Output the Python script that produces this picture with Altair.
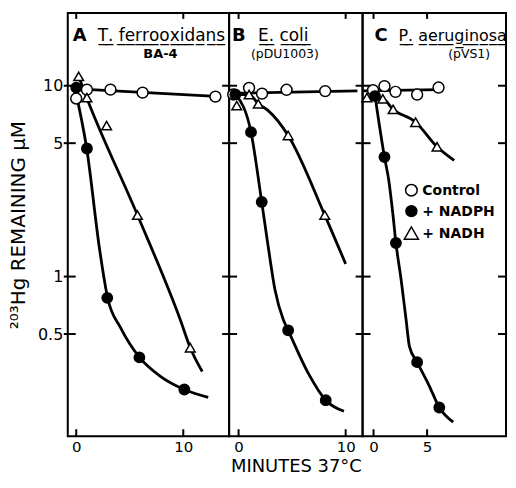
import altair as alt
import pandas as pd

SERIES = ["Control", "+ NADPH", "+ NADH"]
YTICKS = [0.5, 1, 5, 10]

# ---------- Panel A: T. ferrooxidans BA-4 ----------
A_ctrl_t = [0, 1.0, 3.2, 6.2, 13.0]
A_ctrl_v = [8.57, 9.54, 9.54, 9.2, 8.77]
A_nadph_t = [0, 1.0, 2.9, 5.9, 10.1]
A_nadph_v = [9.78, 4.69, 0.774, 0.377, 0.256]
A_nadh_t = [0.23, 1.0, 2.84, 5.72, 10.65]
A_nadh_v = [11.2, 8.66, 6.18, 2.1, 0.424]
A_ctrl_curve_t = [-0.33, 13.07]
A_ctrl_curve_v = [9.66, 8.8]
A_nadph_curve_t = [-0.14, 0.98, 2.19, 2.93, 4.14, 5.91, 7.86, 10.09, 12.33]
A_nadph_curve_v = [9.78, 4.69, 1.38, 0.774, 0.54, 0.377, 0.30, 0.256, 0.233]
A_nadh_curve_t = [0.23, 0.98, 5.72, 9.72, 10.65, 11.77]
A_nadh_curve_v = [11.2, 8.66, 2.1, 0.594, 0.424, 0.318]
A_xticks = [0, 10]

# ---------- Panel B: E. coli (pDU1003) ----------
B_ctrl_t = [-0.5, 0.98, 2.19, 4.48, 8.09]
B_ctrl_v = [9.0, 9.74, 9.09, 9.52, 9.37]
B_nadph_t = [-0.3, 1.16, 2.16, 4.63, 8.14]
B_nadph_v = [9.0, 5.71, 2.46, 0.523, 0.225]
B_nadh_t = [-0.17, 0.98, 1.84, 4.63, 8.05]
B_nadh_v = [7.87, 8.99, 8.04, 5.49, 2.1]
B_ctrl_curve_t = [-0.88, 11.1]
B_ctrl_curve_v = [9.12, 9.4]
B_nadph_curve_t = [-0.3, 1.16, 2.16, 2.77, 3.4, 4.17, 4.63, 6.49, 8.14, 9.84]
B_nadph_curve_v = [9.0, 5.71, 2.46, 1.43, 0.852, 0.595, 0.523, 0.313, 0.225, 0.197]
B_nadh_curve_t = [0.0, 0.98, 1.84, 2.74, 4.63, 8.05, 10.0]
B_nadh_curve_v = [9.0, 8.99, 8.04, 7.43, 5.49, 2.1, 1.165]
B_xticks = [0, 10]

# ---------- Panel C: P. aeruginosa (pVS1) ----------
C_ctrl_t = [-0.05, 1.02, 2.05, 4.07, 6.07]
C_ctrl_v = [9.48, 9.95, 9.29, 8.99, 9.78]
C_nadph_t = [0.14, 1.02, 2.09, 4.07, 6.14]
C_nadph_v = [8.83, 4.23, 1.5, 0.356, 0.206]
C_nadh_t = [-0.62, 0.87, 1.83, 3.93, 5.93]
C_nadh_v = [8.67, 8.53, 7.52, 6.44, 4.79]
C_ctrl_curve_t = [-1.02, 6.07]
C_ctrl_curve_v = [9.4, 9.55]
C_nadph_curve_t = [0.14, 1.02, 1.42, 1.8, 2.09, 2.58, 3.04, 3.35, 4.07, 5.21, 6.14, 7.44]
C_nadph_curve_v = [8.83, 4.23, 3.2, 2.14, 1.5, 0.96, 0.594, 0.431, 0.356, 0.267, 0.206, 0.173]
C_nadh_curve_t = [-0.62, 0.87, 1.83, 3.93, 5.93, 7.53]
C_nadh_curve_v = [8.67, 8.53, 7.52, 6.44, 4.79, 4.06]
C_xticks = [0, 5]

LETTERS = ["A", "B", "C"]
SPECIES = [("T.", "ferrooxidans"), ("E.", "coli"), ("P.", "aeruginosa")]
STRAINS = ["BA-4", "(pDU1003)", "(pVS1)"]
Y_TITLE = "\u00b2\u2070\u00b3Hg REMAINING \u00b5M"
X_TITLE = "MINUTES 37\u00b0C"

H = 425
FONT = "DejaVu Sans"

SHAPE_SCALE = alt.Scale(domain=SERIES, range=["circle", "circle", "triangle-up"])
FILL_SCALE = alt.Scale(domain=SERIES, range=["white", "black", "white"])


def ul(s):
    return "".join(c + "\u0332" for c in s)


def frame(ts, vs, names):
    rows = []
    k = 0
    for tt, vv, nm in zip(ts, vs, names):
        for a, b in zip(tt, vv):
            rows.append({"t": a, "v": b, "series": nm, "mk": nm, "k": k})
            k += 1
    return pd.DataFrame(rows)


def panel(i, pts, curves, xticks, width, xdomain, show_y, show_xtitle, show_legend,
          letter_x, species_x, strain_x, species_size):
    xs = alt.Scale(domain=xdomain, nice=False, zero=False)
    ys = alt.Scale(type="log", domain=[0.1457, 24.07], nice=False)
    xax = alt.Axis(values=xticks, ticks=False, tickSize=0, domain=False, grid=False,
                   labelFontSize=15, labelPadding=3, labelColor="black",
                   title=X_TITLE if show_xtitle else None,
                   titleFontSize=18, titleFontWeight="normal", titleColor="black",
                   titleY=21.5, titleBaseline="top")
    if show_y:
        yax = alt.Axis(values=YTICKS, format="~g", ticks=False, tickSize=0, domain=False,
                       grid=False, labelFontSize=16, labelPadding=5, labelColor="black",
                       title=Y_TITLE, titleFontSize=20, titleFontWeight="normal",
                       titleColor="black", titleX=-39)
    else:
        yax = None

    X = lambda: alt.X("t:Q", scale=xs, axis=xax)
    Y = lambda: alt.Y("v:Q", scale=ys, axis=yax)

    dc = frame(*curves, SERIES)
    dp = frame(*pts, SERIES)

    lines = alt.Chart(dc).mark_line(color="black", strokeWidth=2.8, interpolate="monotone").encode(
        x=X(), y=Y(), detail="series:N", order="k:Q")

    points = alt.Chart(dp).mark_point(filled=True, stroke="black", strokeWidth=1.5, opacity=1).encode(
        x=X(), y=Y(),
        shape=alt.Shape("series:N", scale=SHAPE_SCALE, legend=None),
        fill=alt.Fill("series:N", scale=FILL_SCALE, legend=None),
        size=alt.Size("mk:N", scale=alt.Scale(domain=SERIES, range=[120, 95, 200]), legend=None),
        order="k:Q",
    )

    dyt = pd.DataFrame({"v": YTICKS})
    dxt = pd.DataFrame({"t": xticks})
    layers = [lines, points]
    if show_y:
        layers.append(alt.Chart(dyt).mark_rule(color="black", strokeWidth=2).encode(
            y=Y(), x=alt.value(-4), x2=alt.value(8)))
    else:
        layers.append(alt.Chart(dyt).mark_rule(color="black", strokeWidth=2).encode(
            y=Y(), x=alt.value(-7), x2=alt.value(8)))
    if i == 2:
        layers.append(alt.Chart(dyt).mark_rule(color="black", strokeWidth=2).encode(
            y=Y(), x=alt.value(width - 8), x2=alt.value(width)))
    layers.append(alt.Chart(dxt).mark_rule(color="black", strokeWidth=2).encode(
        x=X(), y=alt.value(0), y2=alt.value(6)))
    layers.append(alt.Chart(dxt).mark_rule(color="black", strokeWidth=2).encode(
        x=X(), y=alt.value(H - 7), y2=alt.value(H)))

    layers.append(alt.Chart(pd.DataFrame({"s": [LETTERS[i]]})).mark_text(
        align="left", baseline="alphabetic", fontSize=18, fontWeight="bold", font=FONT, color="black"
    ).encode(x=alt.value(letter_x), y=alt.value(28), text="s:N"))
    sp = ul(SPECIES[i][0]) + " " + ul(SPECIES[i][1])
    layers.append(alt.Chart(pd.DataFrame({"s": [sp]})).mark_text(
        align="left", baseline="alphabetic", fontSize=species_size, font=FONT, color="black"
    ).encode(x=alt.value(species_x), y=alt.value(28), text="s:N"))
    layers.append(alt.Chart(pd.DataFrame({"s": [STRAINS[i]]})).mark_text(
        align="center", baseline="alphabetic", fontSize=13 if i == 0 else 12.5,
        fontWeight="bold" if i == 0 else "normal", font=FONT, color="black"
    ).encode(x=alt.value(strain_x), y=alt.value(45), text="s:N"))

    if show_legend:
        leg_y = [178, 199, 221]
        leg_size = [135, 120, 200]
        for j, name in enumerate(SERIES):
            dl = pd.DataFrame({"series": [name]})
            layers.append(alt.Chart(dl).mark_point(filled=True, stroke="black", strokeWidth=1.5,
                                                   opacity=1).encode(
                x=alt.value(49), y=alt.value(leg_y[j]),
                shape=alt.Shape("series:N", scale=SHAPE_SCALE, legend=None),
                fill=alt.Fill("series:N", scale=FILL_SCALE, legend=None),
                size=alt.value(leg_size[j])))
            layers.append(alt.Chart(dl).mark_text(
                align="left", baseline="middle", fontSize=14, fontWeight="bold", font=FONT,
                color="black").encode(x=alt.value(60), y=alt.value(leg_y[j] + 1), text="series:N"))

    return alt.layer(*layers).properties(width=width, height=H)


pA = panel(0,
           ([A_ctrl_t, A_nadph_t, A_nadh_t], [A_ctrl_v, A_nadph_v, A_nadh_v]),
           ([A_ctrl_curve_t, A_nadph_curve_t, A_nadh_curve_t], [A_ctrl_curve_v, A_nadph_curve_v, A_nadh_curve_v]),
           A_xticks, 162, [-0.79, 14.28], True, False, False, 5, 30, 93, 17)
pB = panel(1,
           ([B_ctrl_t, B_nadph_t, B_nadh_t], [B_ctrl_v, B_nadph_v, B_nadh_v]),
           ([B_ctrl_curve_t, B_nadph_curve_t, B_nadh_curve_t], [B_ctrl_curve_v, B_nadph_curve_v, B_nadh_curve_v]),
           B_xticks, 134, [-0.884, 11.581], False, True, False, 3, 29, 56, 17)
pC = panel(2,
           ([C_ctrl_t, C_nadph_t, C_nadh_t], [C_ctrl_v, C_nadph_v, C_nadh_v]),
           ([C_ctrl_curve_t, C_nadph_curve_t, C_nadh_curve_t], [C_ctrl_curve_v, C_nadph_curve_v, C_nadh_curve_v]),
           C_xticks, 144, [-1.023, 12.37], False, False, True, 12, 36, 107, 16)

chart = alt.hconcat(pA, pB, pC, spacing=0, bounds="flush").resolve_scale(
    x="independent", y="independent", shape="independent", fill="independent", size="independent"
).properties(
    padding={"left": 0, "top": 2, "right": 0, "bottom": 0}
).configure(font=FONT).configure_view(stroke="black", strokeWidth=2)

chart.save("out.html", embed_options={"renderer": "svg", "actions": False})
